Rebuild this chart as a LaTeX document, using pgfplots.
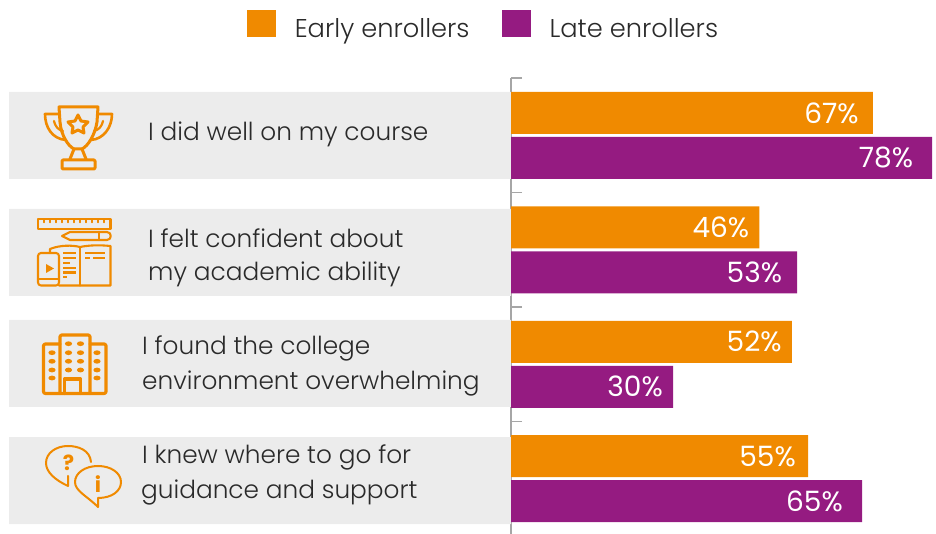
\documentclass[border=0pt]{standalone}
\usepackage{pgfplots}
\pgfplotsset{compat=1.18}
\usepackage{fontspec}
\setmainfont{Poppins Light}
\newfontfamily\valfont{Poppins}
\definecolor{eo}{HTML}{F08A00}
\definecolor{lo}{HTML}{951B81}
\definecolor{pan}{HTML}{ECECEC}
\definecolor{ax}{HTML}{A6A6A6}
\definecolor{tx}{HTML}{2A2A2A}
\pgfplotsset{vals/.style={
  visualization depends on={\thisrow{inset} \as \inset},
  every node near coord/.append style={anchor=east,xshift=-\inset pt,yshift=0pt,inner sep=0pt,text=white,font=\valfont\fontsize{28}{30}\selectfont}}}
\begin{document}
\begin{tikzpicture}
\useasboundingbox (0,0) rectangle (936pt,534pt);
\begin{axis}[
  at={(0,0)},anchor=south west,
  scale only axis,width=936pt,height=455.7pt,
  xmin=-94.63,xmax=78.7,
  ymin=-0.5,ymax=3.4834,
  y dir=reverse,
  axis x line=none,
  axis y line=center,
  y axis line style={-,draw=ax,line width=1.8pt},
  ytick={-0.5,0.5,1.5,2.5},
  yticklabels={},
  tick style={draw=ax,line width=1.6pt},
  major tick length=-11pt,
  tick align=inside,
  xbar,
  clip=false,
  legend columns=2,
  legend style={at={(0.2639,1.1504)},anchor=north west,draw=none,fill=none,
    inner sep=0pt,outer sep=0pt,
    font=\fontsize{25.7}{27}\selectfont\color{tx},
    /tikz/every odd column/.append style={column sep=16.8pt},
    /tikz/every even column/.append style={column sep=30.2pt}},
  legend image code/.code={\fill[#1,draw=none] (0pt,-8pt) rectangle (29pt,19pt);},
  nodes near coords={\pgfmathprintnumber[assume math mode=true]{\pgfplotspointmeta}\%},
  point meta=x,
]
\addplot[forget plot,draw=none,fill=pan,bar width=87pt,bar shift=0pt,nodes near coords={}]
  coordinates {(-92.96,-0.002)(-92.96,1.022)(-92.96,1.992)(-92.96,3.016)};
\addplot[draw=none,fill=eo,bar width=42pt,bar shift=22.5pt,vals]
  table[x=v,y=c]{
v c inset
67 0 14
46 1 10
52 2 10
55 3 12
};
\addplot[draw=none,fill=lo,bar width=42pt,bar shift=-22.5pt,vals]
  table[x=v,y=c]{
v c inset
78 0 19
53 1 15
30 2 10
65 3 19
};
\legend{Early enrollers,Late enrollers}
\end{axis}
\begin{scope}[shift={(0,534pt)},x=1pt,y=-1pt]
\tikzset{lab/.style={anchor=base west,inner sep=0pt,text=tx,font=\fontsize{24.8}{26}\selectfont}}
\node[lab] at (148,141) {I did well on my course};
\node[lab] at (148,248) {I felt confident about};
\node[lab] at (148,281) {my academic ability};
\node[lab] at (142,355) {I found the college};
\node[lab] at (142,390) {environment overwhelming};
\node[lab] at (142,464) {I knew where to go for};
\node[lab] at (141,499) {guidance and support};
\begin{scope}[draw=eo,line width=3pt,line join=round,line cap=round]
% trophy
\draw (59,107) -- (98,107) -- (97,122) .. controls (95,135) and (88,146) .. (82,149) -- (74,149) .. controls (68,146) and (61,135) .. (60,122) -- cycle;
\draw[line width=2.6pt] (58,114) -- (45,114) .. controls (45,127) and (52,139) .. (66,140);
\draw[line width=2.6pt] (99,114) -- (112,114) .. controls (112,127) and (104,139) .. (91,140);
\draw[line width=2.2pt] (54,121) .. controls (55,126) and (58,130) .. (63,131);
\draw[line width=2.2pt] (103,121) .. controls (102,126) and (99,130) .. (94,131);
\draw (74,149) -- (70,159) (82,149) -- (86,159);
\draw[rounded corners=1pt] (62,160) rectangle (95,169);
\draw (78,115) -- (81,121) -- (88,122) -- (83,127) -- (84,133) -- (78,130) -- (72,133) -- (73,127) -- (68,122) -- (75,121) -- cycle;
% books
\begin{scope}[line width=2.1pt]
\draw (38,219) rectangle (110.5,229);
\foreach \x in {44,50,...,106} {\draw[line width=1.4pt] (\x,219) -- (\x,222.5);}
\draw (62,236) -- (70,232) -- (107,232) .. controls (112,232) and (112,240) .. (107,240) -- (70,240) -- cycle;
\draw (99,232) -- (99,240);
\draw (50,253) -- (50,249) .. controls (60,245) and (72,245) .. (80,247) .. controls (90,245) and (100,245) .. (110.5,246) -- (110.5,285.5) -- (59,285.5);
\draw (80,247) -- (80,285.5);
\draw[rounded corners=3pt] (38,253) rectangle (59,285.5);
\draw (38,279) -- (59,279);
\fill[eo] (46,264) -- (54,268.5) -- (46,273) -- cycle;
\draw[line cap=butt,line width=2.6pt] (63,253) -- (76,253) (63,258) -- (76,258) (63,263) -- (70,263) (63,268) -- (76,268) (63,272.5) -- (76,272.5) (63,277) -- (67,277);
\draw[line cap=butt,line width=2.6pt] (85,253) -- (105,253) (85,258) -- (90,258) (93,258) -- (105,258);
\end{scope}
% building
\begin{scope}[line width=3.2pt]
\draw[rounded corners=2pt] (60,344) -- (43.5,344) -- (43.5,393.5) -- (106,393.5) -- (106,344) -- (90,344);
\draw[rounded corners=2pt] (60,393.5) -- (60,335) -- (90,335) -- (90,393.5);
\draw (64.5,393.5) -- (64.5,379) -- (80.5,379) -- (80.5,393.5);
\end{scope}
\foreach \x/\y in {68.5/343.7,80.5/343.7,68.5/352.7,80.5/352.7,68.5/361.3,80.5/361.3,68.5/370,80.5/370,52/352.7,97/352.7,52/361.3,97/361.3,52/370,97/370,52/378,97/378}
  {\fill[eo] (\x,\y) ellipse (3.6 and 2.4);}
% bubbles
\begin{scope}[line width=2pt]
\draw (91,462) .. controls (90,450) and (78,446) .. (68,446) .. controls (56,446) and (46,453) .. (46,463) .. controls (46,472) and (55,480) .. (68,486) -- (68,476);
\draw (98,466) .. controls (85,466) and (75,473) .. (75,482) .. controls (75,491) and (87,496) .. (98,507) -- (98,498) .. controls (112,498) and (121,491) .. (121,482) .. controls (121,473) and (111,466) .. (98,466) -- cycle;
\end{scope}
\node[text=eo,inner sep=0pt,font=\valfont\bfseries\fontsize{21}{21}\selectfont] at (68.5,463) {?};
\node[text=eo,inner sep=0pt,font=\valfont\bfseries\fontsize{21}{21}\selectfont] at (98,484) {i};
\end{scope}
\end{scope}
\end{tikzpicture}
\end{document}
